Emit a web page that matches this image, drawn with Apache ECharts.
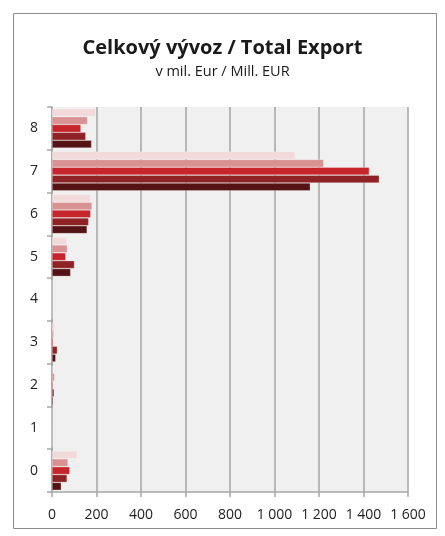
<!DOCTYPE html>
<html><head><meta charset="utf-8">
<script src="https://cdn.jsdelivr.net/npm/echarts@6/dist/echarts.min.js"></script>
<style>html,body{margin:0;padding:0;background:#fff}#c{width:445px;height:536px}</style>
</head><body><div id="c"></div>
<script>
const categories = ['0','1','2','3','4','5','6','7','8'];
const xTicks = [0,200,400,600,800,1000,1200,1400,1600];
const series1 = [113, 0, 3, 12, 0, 68, 174, 1093, 196];
const series2 = [72, 0, 12, 8, 0, 69, 180, 1221, 160];
const series3 = [80, 0, 5, 6, 0, 62, 174, 1426, 130];
const series4 = [68, 0, 10, 24, 0, 101, 165, 1471, 152];
const series5 = [42, 0, 6, 17, 0, 84, 158, 1161, 178];
const colors = ['#f2d9da', '#d99294', '#c6262b', '#8f2224', '#561315'];
const seriesData = [series1, series2, series3, series4, series5];

const chart = echarts.init(document.getElementById('c'), null, {renderer:'canvas'});
const fontFam = '"Open Sans", "Liberation Sans", sans-serif';
chart.setOption({
  animation: false,
  backgroundColor: '#ffffff',
  title: {
    text: 'Celkový vývoz / Total Export',
    subtext: 'v mil. Eur / Mill. EUR',
    left: 'center', top: 33, itemGap: 6,
    textStyle: {fontFamily: fontFam, fontWeight: 'bold', fontSize: 20, color: '#1a1a1a'},
    subtextStyle: {fontFamily: fontFam, fontSize: 14.5, color: '#1a1a1a'}
  },
  graphic: [{type:'rect', shape:{x:13.5, y:13.5, width:423, height:515}, style:{fill:'none', stroke:'#8c8c8c', lineWidth:1}, silent:true}],
  grid: {left: 52, right: 37, top: 107, bottom: 44, show: true, backgroundColor: '#f0f0f0', borderWidth: 0},
  xAxis: {
    type: 'value', min: xTicks[0], max: xTicks[xTicks.length-1], interval: 200,
    axisLine: {show: true, lineStyle: {color: '#a6a6a6', width: 1.5}},
    axisTick: {show: true, length: 5, lineStyle: {color: '#a6a6a6', width: 1.5}},
    splitLine: {show: true, lineStyle: {color: '#a6a6a6', width: 1.5}},
    axisLabel: {fontFamily: fontFam, fontSize: 14, color: '#222', margin: 16,
      formatter: v => String(v).replace(/\B(?=(\d{3})+(?!\d))/g, ' ')}
  },
  yAxis: {
    type: 'category', data: categories,
    axisLine: {show: true, lineStyle: {color: '#a6a6a6', width: 1.5}},
    axisTick: {show: true, length: 5, lineStyle: {color: '#a6a6a6', width: 1.5}},
    axisLabel: {fontFamily: fontFam, fontSize: 14, color: '#222', margin: 14},
    splitLine: {show: false}
  },
  series: seriesData.map((d, i) => ({
    type: 'bar', data: d, barGap: '0%', barCategoryGap: '8%',
    itemStyle: {color: colors[i], borderColor: 'rgba(255,255,255,0.45)', borderWidth: 0.6}
  }))
});
</script></body></html>
